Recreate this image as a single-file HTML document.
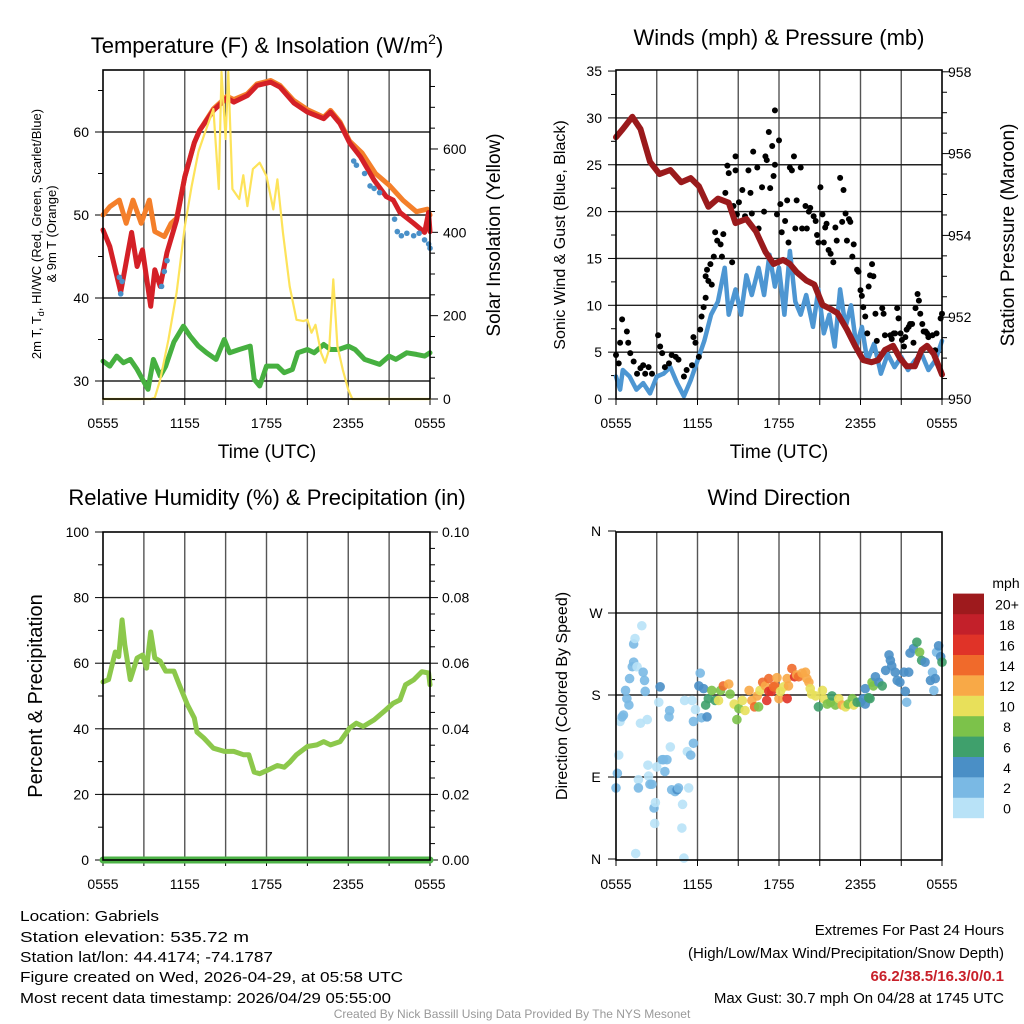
<!DOCTYPE html>
<html><head><meta charset="utf-8"><style>
html,body{margin:0;padding:0;background:#fff}
svg{display:block;font-family:"Liberation Sans",sans-serif}
</style></head><body>
<svg id="chart" width="1024" height="1024" viewBox="0 0 1024 1024" xmlns="http://www.w3.org/2000/svg">
<rect x="0" y="0" width="1024" height="1024" fill="#fff"/>
<text x="267" y="53" font-size="22" text-anchor="middle">Temperature (F) &amp; Insolation (W/m<tspan font-size="14" dy="-9">2</tspan><tspan dy="9">)</tspan></text>
<text x="779" y="45" font-size="22" text-anchor="middle">Winds (mph) &amp; Pressure (mb)</text>
<text x="267" y="505" font-size="22" text-anchor="middle">Relative Humidity (%) &amp; Precipitation (in)</text>
<text x="779" y="505" font-size="22" text-anchor="middle">Wind Direction</text>
<g font-size="13" text-anchor="middle">
<text transform="translate(41,234) rotate(-90)">2m T, T<tspan font-size="9" dy="3">d</tspan><tspan dy="-3">, HI/WC (Red, Green, Scarlet/Blue)</tspan></text>
<text transform="translate(56,234) rotate(-90)">&amp; 9m T (Orange)</text>
</g>
<text transform="translate(500,235) rotate(-90)" font-size="19" text-anchor="middle">Solar Insolation (Yellow)</text>
<text transform="translate(565,235) rotate(-90)" font-size="16" text-anchor="middle">Sonic Wind &amp; Gust (Blue, Black)</text>
<text transform="translate(1014,235) rotate(-90)" font-size="19" text-anchor="middle">Station Pressure (Maroon)</text>
<text transform="translate(42,696) rotate(-90)" font-size="20" text-anchor="middle">Percent &amp; Precipitation</text>
<text transform="translate(567,696) rotate(-90)" font-size="16" text-anchor="middle">Direction (Colored By Speed)</text>
<text x="267" y="458" font-size="19" text-anchor="middle">Time (UTC)</text>
<text x="779" y="458" font-size="19" text-anchor="middle">Time (UTC)</text>
<g font-size="15">
<text x="20" y="921" textLength="139" lengthAdjust="spacingAndGlyphs">Location: Gabriels</text>
<text x="20" y="942" textLength="229" lengthAdjust="spacingAndGlyphs">Station elevation: 535.72 m</text>
<text x="20" y="962" textLength="253" lengthAdjust="spacingAndGlyphs">Station lat/lon: 44.4174; -74.1787</text>
<text x="20" y="982" textLength="383" lengthAdjust="spacingAndGlyphs">Figure created on Wed, 2026-04-29, at 05:58 UTC</text>
<text x="20" y="1003" textLength="371" lengthAdjust="spacingAndGlyphs">Most recent data timestamp: 2026/04/29 05:55:00</text>
</g>
<g font-size="15" text-anchor="end">
<text x="1004" y="935">Extremes For Past 24 Hours</text>
<text x="1004" y="958">(High/Low/Max Wind/Precipitation/Snow Depth)</text>
<text x="1004" y="981" fill="#c8202a" font-weight="bold">66.2/38.5/16.3/0/0.1</text>
<text x="1004" y="1003">Max Gust: 30.7 mph On 04/28 at 1745 UTC</text>
</g>
<text x="512" y="1018" font-size="12" fill="#999" text-anchor="middle">Created By Nick Bassill Using Data Provided By The NYS Mesonet</text>
</svg>
<script>
// ---------- DATA ----------
const xTickLabels = ["0555","1155","1755","2355","0555"];
// Temperature panel
const tempHours = [0,0.5,1.3,2.1,2.5,2.9,3.5,3.8,4.2,4.7,5.4,6.0,6.7,7.1,8.1,9.1,9.6,10.6,11.3,12.3,13.0,14.0,15.0,16.2,16.7,17.4,18.1,18.9,19.9,20.8,21.3,21.8,22.8,23.6,23.9,24];
const temp2m = [48.2,46.2,40.7,47.9,43.8,45.8,39,43.4,41.4,45.5,49.4,54.6,58.7,60.2,62.6,64.1,63.6,64.4,65.6,66,65.4,63.5,62.4,61.6,62.4,61,58.7,57,54.2,52.2,51.8,50.3,49,47.9,50.3,48];
const temp9mHours = [0,0.5,1.2,1.7,2.2,2.8,3.4,3.8,4.5,5.0,5.4,6.0,6.7,7.1,8.1,9.1,9.6,10.6,11.3,12.3,13.0,14.0,15.0,16.2,16.7,17.4,18.1,19,20,21,22,23,23.8,24];
const temp9m = [50,51,51.8,49,51.8,49,51.8,48,47.4,49,49.6,54.6,58.7,60.2,62.8,64.3,63.9,64.6,65.8,66.2,65.6,63.8,62.7,61.8,62.6,61.2,58.9,57.5,55,53.6,51.8,50.4,50.7,50];
const wcHours = [1.2,1.3,1.4,4.3,4.5,4.7,18.4,18.6,19.2,19.6,19.9,20.3,21.4,21.6,21.9,22.3,22.8,23.2,23.6,23.9,24];
const windChill = [42.5,40.5,42,41.4,43.2,44.5,56.5,56,55,53.5,53.2,52.7,49.5,48,47.5,47.8,47.5,47.8,47,46.5,46];
const dewHours = [0,0.5,1,1.5,2,2.5,3.3,3.7,4.2,4.6,5.2,5.9,6.4,7,7.6,8.3,8.9,9.3,10,10.8,11.1,11.5,12,12.8,13.3,13.9,14.3,15,15.5,16.2,16.7,17.3,18,18.5,19.2,20.3,21,21.5,22.3,23,23.6,24];
const dewpoint = [32.4,31.8,33,32.2,32.6,31.4,29,32.6,30.6,31.8,34.7,36.6,35.4,34.2,33.4,32.6,35,33.4,33.8,34.2,30.2,29.4,31.8,31.8,31,31.4,33.4,33.8,33.4,34.4,33.8,33.8,34.2,33.8,32.6,32,33,32.6,33.4,33.2,33,33.4];
const solarHours = [0,3.5,3.8,4.2,4.8,5.4,6.0,6.5,7.0,7.5,8.1,8.5,8.7,9.0,9.2,9.5,10,10.3,10.6,11,11.5,12,12.5,12.8,13.2,13.7,14.2,14.7,15,15.3,15.6,16,16.3,16.6,16.9,17.2,17.6,18.0,18.3,24];
const solar = [0,0,3,46,142,255,414,510,593,641,696,504,785,624,785,504,480,537,463,552,567,535,455,527,400,270,190,187,190,159,178,111,87,120,287,127,70,22,0,0];
const tempTicks = [30,40,50,60];
const solarTicks = [0,200,400,600];
// Wind panel
const windHours = [0,0.3,0.5,1,1.5,2,2.5,3,3.5,4,4.5,5,5.5,6,6.5,7,7.5,8,8.3,8.8,9.2,9.6,10,10.5,10.9,11.3,11.7,12,12.4,12.8,13.2,13.6,14,14.5,14.9,15.3,15.7,16.1,16.5,16.9,17.3,17.7,18.1,18.5,19,19.5,20,20.5,21,21.5,22,22.5,23,23.5,24];
const windSpeed = [2.4,1,3.1,2.4,1,1.7,0.6,2.4,2.7,3.4,1.7,0.3,2,4.1,6.2,9,10.4,14,9,11.7,9,13.2,11.1,14,11.1,15.4,12,14,9,15.8,10.4,9,11.1,7.7,11.7,7,9,5.6,11.7,7.7,10,5.6,7.7,4.1,5.9,2.7,4.8,3.4,4.5,3.1,4.1,4.8,3.1,4.1,6.2];
const gustHours = [0,0.2,0.3,0.45,0.8,0.9,1.05,1.3,1.55,1.8,2,2.15,2.4,2.65,3.1,3.25,3.4,3.6,3.9,4.1,4.4,4.6,5,5.2,5.6,5.7,5.85,6.1,6.2,6.3,6.45,6.6,6.6,6.7,6.8,6.95,7.05,7.2,7.3,7.45,7.7,7.8,7.9,8.05,8.2,8.3,8.55,8.65,8.8,8.8,8.9,9.05,9.3,9.5,9.75,9.9,10,10.1,10.4,10.5,10.75,10.9,11,11.1,11.25,11.35,11.5,11.6,11.7,11.7,11.85,12,12.1,12.2,12.45,12.6,12.7,12.8,12.95,13.1,13.2,13.3,13.6,13.7,13.95,14.05,14.2,14.3,14.55,14.7,14.8,14.9,15.05,15.2,15.3,15.4,15.5,15.65,15.8,16,16.15,16.25,16.5,16.65,16.75,16.9,17,17.15,17.25,17.4,17.5,17.75,17.85,18,18.1,18.2,18.35,18.5,18.6,18.7,18.85,18.95,19.1,19.2,19.6,19.7,19.8,20.2,20.3,20.45,20.55,20.7,20.8,20.95,21.05,21.2,21.3,21.4,21.55,21.65,21.8,21.9,22.05,22.2,22.3,22.4,22.55,22.65,22.8,22.9,23,23.3,23.5,23.6,23.9,24];
const gustSpeed = [4.7,3.8,6,8.5,7.2,6,4.9,4,2.7,3.3,3.6,2.7,3.4,2.7,6.8,5.6,4.9,3.4,3.8,4.7,4.5,4.2,2.4,3.1,3.6,6.6,6,4.5,7.4,8.8,9.8,13.1,10.8,13.8,12.6,14.4,12.2,15.2,17.8,16.9,16.5,15.2,17.6,22,24.9,24.1,14.6,20.6,24.4,25.9,19.7,21,22.3,19.5,24.4,22,19.8,26.4,24.7,18.2,22.6,20,25.9,25.5,28.5,22.5,27,23.8,25,30.8,19.7,27.6,20.8,17.8,19,21.2,16.7,24.7,24.4,25.9,18.2,21.2,24.7,18.2,20.6,18.2,20,20.4,19.5,19,17.5,16.7,22.6,19.7,16.7,18.3,18.7,15.9,15.5,14.6,18.3,16.9,23.6,18.9,22.3,19.8,16.9,19.2,18.9,15.2,16.5,13.8,13.6,11.6,11,9.8,8.8,7,12,13.2,14.4,13.1,9.1,6.2,9.7,9.1,6.8,6.8,6.4,7,7,9.7,8.6,7,6.3,5.6,6.6,7.4,7.7,8,8,6,9.7,11.2,10.5,9.1,8,7.2,7.2,7,6.6,6.8,5.2,7,8.6,9.1];
const presHours = [0,0.5,1.2,1.8,2.5,3.2,4,4.8,5.5,6.1,6.8,7.5,8.3,8.8,9.6,10.3,11,11.6,12.3,12.8,13.3,14,14.6,15.2,15.8,16.3,17,17.6,18.2,18.8,19.3,19.8,20.4,20.9,21.4,22,22.5,22.9,23.4,24];
const pressure = [956.4,956.6,956.9,956.6,955.8,955.5,955.6,955.3,955.4,955.2,954.7,954.9,954.8,954.3,954.4,954.1,953.6,953.3,953.4,953.3,953.1,952.9,952.8,952.3,952.2,952.1,951.7,951.3,950.95,950.9,950.95,951.2,951.3,951.0,950.8,950.8,951.2,951.3,951.1,950.6];
const windTicks = [0,5,10,15,20,25,30,35];
const presTicks = [950,952,954,956,958];
// Humidity panel
const rhHours = [0,0.4,0.9,1.15,1.4,1.6,2,2.5,2.9,3.2,3.5,3.8,4.2,4.6,5.2,5.6,6.2,6.7,6.9,7.4,8.1,8.9,9.6,10.3,10.7,11.1,11.5,12.3,12.8,13.3,13.7,14.2,15,15.7,16.2,16.7,17.4,18.1,18.6,19.1,19.9,20.6,21.3,21.8,22.2,22.8,23.4,23.9,24];
const rh = [54.3,55,63.4,62,73.2,65.6,55,61.6,62.5,58.5,69.5,61.6,60.6,57.6,57.6,53.4,47.3,43.3,39,37.2,34.1,33.1,33.1,32.1,32.1,26.8,26.3,27.8,28.8,28.3,29.8,32.1,34.6,35.1,36.1,35.1,36.1,40.2,41.7,40.7,42.7,45.2,47.8,48.8,53.4,54.9,57.4,57,53.4];
const precipHours = [0,24];
const precip = [0,0];
const rhTicks = [0,20,40,60,80,100];
const precipTicks = ["0.00","0.02","0.04","0.06","0.08","0.10"];
// Direction panel
const dirHours = [0,0.1,0.2,0.3,0.45,0.55,0.7,0.8,0.95,1.0,1.2,1.3,1.3,1.4,1.45,1.55,1.65,1.65,1.8,1.9,2.0,2.1,2.15,2.3,2.35,2.4,2.5,2.65,2.8,2.85,2.9,3.0,3.15,3.25,3.4,3.5,3.6,3.75,3.9,3.95,4.0,4.1,4.35,4.5,4.6,4.85,4.9,5.0,5.05,5.25,5.35,5.5,5.6,5.7,5.7,5.85,6.1,6.2,6.3,6.45,6.6,6.7,6.8,7.05,7.3,7.55,7.7,7.9,8.3,8.4,8.7,8.9,9.05,9.3,9.5,9.8,10.0,10.2,10.4,10.5,10.6,10.8,11.0,11.1,11.25,11.25,11.45,11.6,11.7,11.85,12.0,12.1,12.35,12.6,12.7,12.6,12.95,13.15,13.3,13.45,13.7,13.95,14.05,14.2,14.3,14.4,14.7,14.9,15.2,15.3,15.55,15.8,15.9,16.15,16.4,16.65,16.9,17.1,17.4,17.5,17.75,18.0,18.2,18.35,18.6,18.7,18.35,18.85,18.95,19.1,19.35,19.6,19.85,20.1,20.2,20.3,20.55,20.7,20.9,21.2,21.3,21.4,21.55,21.65,21.9,22.15,22.35,22.5,22.75,23.15,23.3,23.4,23.5,23.6,23.75,23.9,24];
const dirDeg = [78,94,114,151,156,158,185,176,169,198,211,216,236,242,6,211,87,78,149,256,205,196,184,153,103,91,82,82,56,39,62,101,172,189,109,109,96,109,156,163,123,76,74,76,78,34,60,1,174,118,78,114,174,127,151,164,190,204,155,187,169,156,176,185,174,174,185,190,192,181,170,153,165,174,163,185,174,167,179,167,185,194,190,174,198,184,184,189,190,199,176,184,189,176,190,198,209,200,202,200,204,205,198,194,187,181,179,167,185,176,170,172,179,169,176,169,167,170,176,169,172,172,176,170,177,176,187,194,190,200,194,190,207,224,218,212,205,196,194,205,184,172,205,226,231,238,227,218,216,196,205,185,198,227,234,222,216];
const dirSpeed = [3,3,1,1,2,2,3,3,3,3,3,3,3,1,1,1,1,3,1,1,3,3,3,1,1,1,3,3,3,1,1,1,1,4.5,3,3,3,3,3,3,1,3,3,4.5,3,1,1,1,1,1,1,3,1,3,3,1,4.5,3,3,4.5,7,4.5,7,9,7,11,9,15,13,9,11,9,9,11,11,13,13,15,13,9,11,15,13,17,15,17,17,15,15,13,13,11,11,17,13,13,15,17,13,15,13,13,13,13,11,11,11,7,11,11,9,9,7,9,11,13,11,9,9,11,7,7,5,5,7,7,5,9,9,5,5,7,5,5,5,5,5,5,5,5,5,3,5,5,5,7,9,7,5,5,3,3,5,3,5,5,7];
const dirTicks = ["N","E","S","W","N"];
const speedBinLabels = ["0","2","4","6","8","10","12","14","16","18","20+"];
const speedBinColors = ["#b8e2f7","#7ab9e4","#4a8fc6","#3fa06c","#7cc24a","#e8e05a","#f8a947","#f06a2b","#e03328","#c3202a","#9e1a1d"];

// ---------- SCALES ----------
const NS = "http://www.w3.org/2000/svg";
const svg = document.getElementById("chart");
function mk(tag, attrs, parent){const e=document.createElementNS(NS,tag);for(const k in attrs)e.setAttribute(k,attrs[k]);(parent||svg).appendChild(e);return e;}
const P1 = {x0:103,x1:430,y0:70,y1:399};
const P2 = {x0:616,x1:942,y0:70,y1:399};
const P3 = {x0:103,x1:430,y0:532,y1:860};
const P4 = {x0:616,x1:942,y0:532,y1:860};
const xL = h => P1.x0 + h*(P1.x1-P1.x0)/24;
const xR = h => P2.x0 + h*(P2.x1-P2.x0)/24;
const yTemp = t => 132 - (t-60)*8.3;
const ySolar = w => 399 - w*0.4167;
const yWind = m => 399 - m*9.37;
const yPres = p => 399 - (p-950)*40.9;
const yRH = r => 860 - r*3.28;
const yPrecip = p => 860 - p*3280;
const yDir = d => 859 - d*82/90;

function frame(P, xs, name){
  const g = mk("g",{});
  
  
  for(let h=3; h<24; h+=3){
    const l = mk("line",{x1:xs(h),x2:xs(h),y1:P.y0,y2:P.y1,stroke:"#555","stroke-width":1.4},g);
    
    
  }
  for(let h=0; h<=24; h+=3){
    const t = mk("line",{x1:xs(h),x2:xs(h),y1:P.y1,y2:P.y1+6,stroke:"#000","stroke-width":1},g);
    
    
  }
  xTickLabels.forEach((s,i)=>{
    const t = mk("text",{x:xs(i*6),y:P.y1+29,"font-size":14,"text-anchor":"middle"},g);
    t.textContent = s;
    
    
  });
  return g;
}
function hline(g,P,y){
  const l = mk("line",{x1:P.x0,x2:P.x1,y1:y,y2:y,stroke:"#222","stroke-width":1.4},g);
  
  
}
function ytick(g,x,y,len,label,anchorX,anchor){
  const t = mk("line",{x1:x,x2:x+len,y1:y,y2:y,stroke:"#000","stroke-width":1},g);
  
  
  if(label!==null){
    const tx = mk("text",{x:anchorX,y:y+5,"font-size":14,"text-anchor":anchor},g);
    tx.textContent = label;
    
    
  }
}
function border(g,P){
  const r = mk("rect",{x:P.x0,y:P.y0,width:P.x1-P.x0,height:P.y1-P.y0,fill:"none",stroke:"#000","stroke-width":1.6},g);
  
  
}
function line(g,hs,vs,xs,ys,color,w,name){
  const pts = hs.map((h,i)=>xs(h).toFixed(1)+","+ys(vs[i]).toFixed(1)).join(" ");
  const p = mk("polyline",{points:pts,fill:"none",stroke:color,"stroke-width":w,"stroke-linejoin":"round","stroke-linecap":"round"},g);
  
  
  return p;
}

// ---------- PANEL 1 ----------
const g1 = frame(P1, xL, "temperature");
tempTicks.forEach(t=>hline(g1,P1,yTemp(t)));
for(let t=30;t<=65;t+=5) ytick(g1,P1.x0,yTemp(t),t%10===0?-8:-5,t%10===0?String(t):null,P1.x0-14,"end");
for(let w=0;w<=750;w+=50) ytick(g1,P1.x1,ySolar(w),w%200===0?8:5,w%200===0?String(w):null,P1.x1+13,"start");
line(g1,temp9mHours,temp9m,xL,yTemp,"#f47f2a",5,"9m-temperature-line");
line(g1,tempHours,temp2m,xL,yTemp,"#d42027",5,"2m-temperature-line");
wcHours.forEach((h,i)=>{
  const c = mk("circle",{cx:xL(h),cy:yTemp(windChill[i]),r:2.8,fill:"#4a90c8"},g1);
  
  
});
line(g1,dewHours,dewpoint,xL,yTemp,"#46b040",5,"dewpoint-line");
line(g1,solarHours,solar,xL,ySolar,"#fde35a",2.2,"solar-insolation-line");
border(g1,P1);

// ---------- PANEL 2 ----------
const g2 = frame(P2, xR, "wind");
windTicks.forEach(t=>{ if(t>0&&t<35) hline(g2,P2,yWind(t)); });
for(let m=0;m<=35;m+=2.5) ytick(g2,P2.x0,yWind(m),m%5===0?-8:-5,m%5===0?String(m):null,P2.x0-14,"end");
for(let p=950;p<=958;p+=0.5) ytick(g2,P2.x1,yPres(p),p%2===0?8:5,p%2===0?String(p):null,P2.x1+6,"start");
line(g2,windHours,windSpeed,xR,yWind,"#4d96d2",4.5,"sonic-wind-line");
gustHours.forEach((h,i)=>{
  const c = mk("circle",{cx:xR(h),cy:yWind(gustSpeed[i]),r:3,fill:"#000"},g2);
  
  
});
line(g2,presHours,pressure,xR,yPres,"#9a1a1c",6,"pressure-line");
border(g2,P2);

// ---------- PANEL 3 ----------
const g3 = frame(P3, xL, "humidity");
rhTicks.forEach(t=>{ if(t>0&&t<100) hline(g3,P3,yRH(t)); });
for(let r=0;r<=100;r+=10) ytick(g3,P3.x0,yRH(r),r%20===0?-8:-5,r%20===0?String(r):null,P3.x0-14,"end");
for(let k=0;k<=20;k++){ const p=k*0.005; ytick(g3,P3.x1,yPrecip(p),k%4===0?8:5,k%4===0?precipTicks[k/4]:null,P3.x1+12,"start"); }
line(g3,rhHours,rh,xL,yRH,"#8cc84b",5,"relative-humidity-line");
line(g3,precipHours,precip,xL,yPrecip,"#4db347",7,"precipitation-line");
border(g3,P3);

// ---------- PANEL 4 ----------
const g4 = frame(P4, xR, "direction");
[90,180,270].forEach(d=>hline(g4,P4,yDir(d)));
dirTicks.forEach((s,i)=>ytick(g4,P4.x0,yDir(i*90),-8,s,P4.x0-20,"middle"));
dirHours.forEach((h,i)=>{
  const bin = Math.min(10, Math.floor(dirSpeed[i]/2));
  const c = mk("circle",{cx:xR(h),cy:yDir(dirDeg[i]),r:4.8,fill:speedBinColors[bin],"fill-opacity":0.9},g4);
  
  
});
border(g4,P4);

// colorbar
const cb = mk("g",{});


const cbTitle = mk("text",{x:1006,y:588,"font-size":14,"text-anchor":"middle"},cb);
cbTitle.textContent = "mph";


speedBinLabels.forEach((s,i)=>{
  const y = 818 - (i+1)*20.4;
  const r = mk("rect",{x:953,y:y,width:31,height:20.6,fill:speedBinColors[i]},cb);
  
  
  const t = mk("text",{x:1007,y:y+16,"font-size":14,"text-anchor":"middle"},cb);
  t.textContent = s;
  
  
});
</script>
</body></html>
